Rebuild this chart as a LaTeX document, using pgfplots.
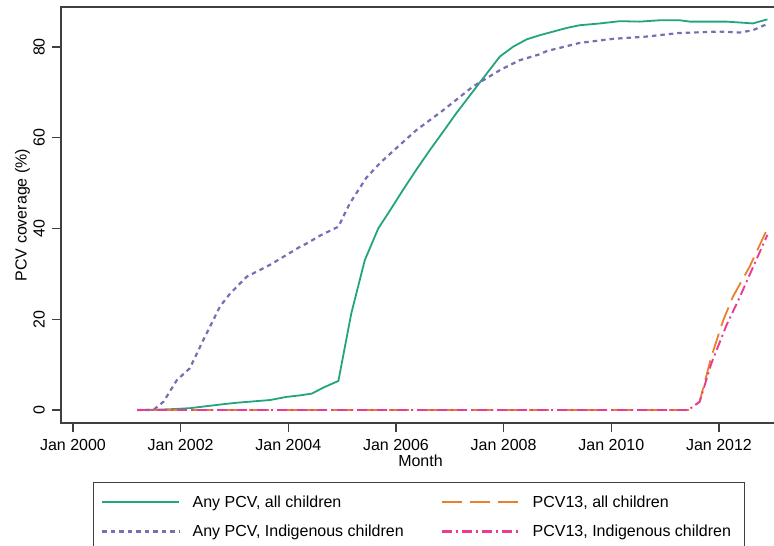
\documentclass[border=0pt]{standalone}
\usepackage{fontspec}
\setmainfont{Liberation Sans}
\usepackage{pgfplots}
\usepackage{pgfplotstable}
\pgfplotsset{compat=1.18}
\definecolor{cgreen}{HTML}{22A57C}
\definecolor{corange}{HTML}{E8802C}
\definecolor{cpurple}{HTML}{7570B3}
\definecolor{cpink}{HTML}{EA3A92}
\definecolor{caxis}{HTML}{404040}

\pgfplotstableread{
x y
2001.19 0
2001.50 0.05
2001.86 0.2
2002.17 0.4
2002.45 0.8
2002.73 1.2
2003.04 1.6
2003.35 1.9
2003.66 2.2
2003.97 2.9
2004.20 3.2
2004.43 3.6
2004.68 5.1
2004.93 6.4
2005.17 21.3
2005.42 33.0
2005.67 40.0
2005.89 44.0
2006.13 48.5
2006.38 53.0
2006.63 57.3
2006.88 61.4
2007.12 65.4
2007.50 71.3
2007.93 77.9
2008.18 80.1
2008.43 81.7
2008.67 82.6
2008.92 83.4
2009.17 84.2
2009.41 84.8
2009.79 85.2
2010.16 85.7
2010.53 85.6
2010.90 85.9
2011.27 85.9
2011.46 85.6
2011.80 85.6
2012.14 85.6
2012.39 85.4
2012.63 85.2
2012.90 86.1
}\anyall

\pgfplotstableread{
x y
2001.19 0
2001.49 0
2001.68 1.8
2001.93 6.6
2002.17 9.2
2002.42 15.4
2002.73 22.8
2002.92 25.7
2003.23 29.4
2003.66 32.0
2003.97 34.2
2004.22 36.0
2004.34 36.7
2004.60 38.5
2004.93 40.4
2005.14 45.5
2005.45 51.2
2005.70 54.4
2006.07 58.4
2006.38 61.7
2006.88 66.1
2007.43 71.3
2007.93 74.9
2008.30 77.1
2008.67 78.4
2008.80 79.1
2009.41 80.9
2010.03 81.8
2010.65 82.3
2011.27 83.1
2012.01 83.4
2012.39 83.2
2012.63 83.7
2012.90 85.1
}\anyind

\pgfplotstableread{
x y
2001.19 0
2011.43 0
2011.64 1.8
2011.86 11.8
2012.08 19.8
2012.26 25.0
2012.57 31.6
2012.90 40.0
}\pcvall

\pgfplotstableread{
x y
2001.19 0
2011.43 0
2011.64 1.8
2011.86 10.3
2012.14 18.7
2012.36 24.2
2012.57 29.8
2012.90 38.6
}\pcvind

\begin{document}
\begin{tikzpicture}[x=1pt,y=1pt]
\begin{axis}[
  at={(61pt,-423pt)}, anchor=south west,
  scale only axis, width=719pt, height=416pt,
  xmin=1999.777, xmax=2013.134, ymin=-2.865, ymax=88.82,
  xtick={2000,2002,2004,2006,2008,2010,2012},
  xticklabels={Jan 2000,Jan 2002,Jan 2004,Jan 2006,Jan 2008,Jan 2010,Jan 2012},
  ytick={0,20,40,60,80},
  xtick pos=left, ytick pos=left,
  tick align=outside, major tick length=9pt,
  every tick/.style={caxis, line width=1.3pt},
  axis line style={caxis, line width=1.6pt},
  /pgf/number format/assume math mode=true,
  font=\fontsize{16}{19}\selectfont,
  tick label style={font=\fontsize{16}{19}\selectfont},
  xticklabel style={anchor=base, yshift=-18.7pt, inner sep=0pt},
  yticklabel style={xshift=-7pt, rotate=90, anchor=south, inner sep=0pt},
  xlabel={Month},
  ylabel={PCV coverage (\%)},
  xlabel style={at={(axis description cs:0.5,-0.105)}, anchor=base, inner sep=0pt},
  ylabel style={at={(axis description cs:-0.05355,0.5)}, anchor=center, inner sep=0pt},
  legend columns=2,
  legend image code/.code={\draw[#1, line width=2.1pt] (0pt,0pt) -- (77pt,0pt);},
  legend style={at={(axis description cs:0.0441,-0.1411)}, anchor=north west,
    draw=caxis, line width=1pt, fill=white,
    inner xsep=8pt, inner ysep=12pt, row sep=13.3pt, column sep=12.3pt,
    font=\fontsize{16}{19}\selectfont,
    nodes={inner sep=0pt, text height=13pt, text depth=3pt}},
  legend cell align=left,
]
\addplot[cgreen, line width=1.8pt, solid] table[x=x,y=y] {\anyall};
\addlegendentry{\makebox[236.4pt][l]{Any PCV, all children}}
\addplot[corange, line width=1.8pt, dash pattern=on 20pt off 8pt] table[x=x,y=y] {\pcvall};
\addlegendentry{\makebox[204pt][l]{PCV13, all children}}
\addplot[cpurple, line width=2.2pt, dash pattern=on 4.5pt off 4pt] table[x=x,y=y] {\anyind};
\addlegendentry{\makebox[236.4pt][l]{Any PCV, Indigenous children}}
\addplot[draw=cpink, line width=1.9pt, dash pattern=on 10pt off 4pt on 2pt off 4pt] table[x=x,y=y] {\pcvind};
\addlegendentry{\makebox[204pt][l]{PCV13, Indigenous children}}
\end{axis}
\pgfresetboundingbox
\path (0pt,0pt) rectangle (774pt,-546pt);
\end{tikzpicture}
\end{document}
